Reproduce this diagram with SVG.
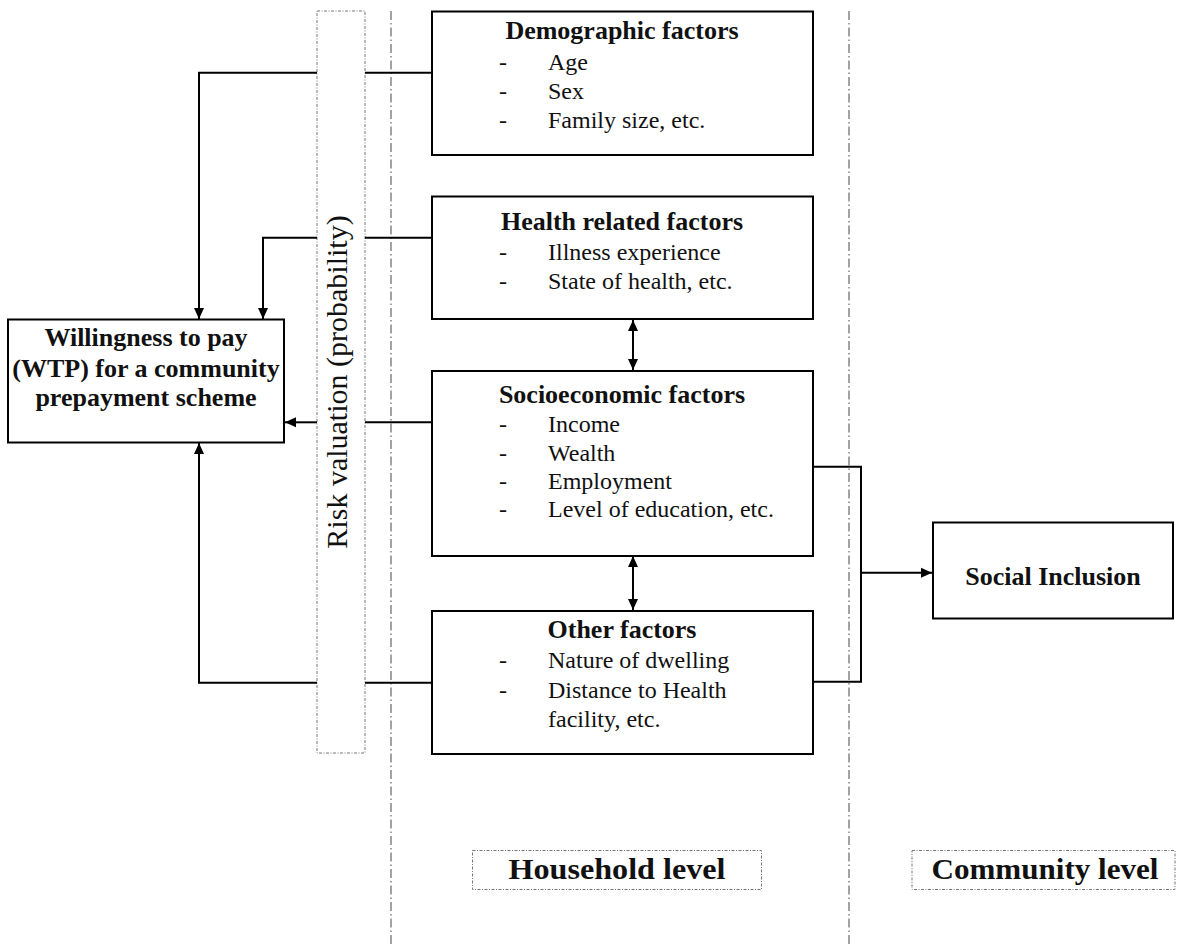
<svg xmlns="http://www.w3.org/2000/svg" width="1180" height="945" viewBox="0 0 1180 945">
<style>
.box{fill:#fff;stroke:#000;stroke-width:2}
.t{font-family:"Liberation Serif","Times New Roman",serif;font-size:24px;fill:#111}
.b{font-family:"Liberation Serif","Times New Roman",serif;font-size:26px;font-weight:bold;fill:#111;text-anchor:middle}
.c{fill:none;stroke:#000;stroke-width:2}
.dd{fill:none;stroke:#666;stroke-width:1.2;stroke-dasharray:9 3 1.5 3}
.dot{fill:none;stroke:#777;stroke-width:1;stroke-dasharray:3 1.5 1 1.5}
.m{text-anchor:middle}
</style>
<defs>
<marker id="ah" markerWidth="11" markerHeight="11" viewBox="0 0 11 11" refX="11" refY="5.5" orient="auto" markerUnits="userSpaceOnUse">
<path d="M0,0.5 L11,5.5 L0,10.5 Z" fill="#000"/>
</marker>
<marker id="as" markerWidth="11" markerHeight="11" viewBox="0 0 11 11" refX="0" refY="5.5" orient="auto" markerUnits="userSpaceOnUse">
<path d="M11,0.5 L0,5.5 L11,10.5 Z" fill="#000"/>
</marker>
</defs>
<rect width="1180" height="945" fill="#fff"/>

<g id="dividers">
<line class="dd" x1="391" y1="11" x2="391" y2="945"/>
<line class="dd" x1="849" y1="11" x2="849" y2="945"/>
</g>

<g id="risk">
<rect class="dot" x="317" y="11" width="48" height="742"/>
<text class="t" style="font-size:30px" text-anchor="middle" transform="translate(347,382) rotate(-90)">Risk valuation (probability)</text>
</g>

<g id="connectors">
<path class="c" d="M432,72.7 H365"/>
<path class="c" d="M317,72.7 H199 V319" marker-end="url(#ah)"/>
<path class="c" d="M432,237.7 H365"/>
<path class="c" d="M317,237.7 H263 V319" marker-end="url(#ah)"/>
<path class="c" d="M432,422.3 H365"/>
<path class="c" d="M317,422.3 H285" marker-end="url(#ah)"/>
<path class="c" d="M432,682.7 H365"/>
<path class="c" d="M317,682.7 H199 V443" marker-end="url(#ah)"/>
<path class="c" d="M633,320 V370" marker-start="url(#as)" marker-end="url(#ah)"/>
<path class="c" d="M633,556 V610" marker-start="url(#as)" marker-end="url(#ah)"/>
<path class="c" d="M813,466.7 H861 V681.7 H813"/>
<path class="c" d="M861,572.7 H932" marker-end="url(#ah)"/>
</g>

<g id="wtp">
<rect class="box" x="8" y="319.5" width="276" height="123"/>
<text class="b" x="146" y="346">Willingness to pay</text>
<text class="b" x="146" y="376.5">(WTP) for a community</text>
<text class="b" x="146" y="406">prepayment scheme</text>
</g>

<g id="demographic">
<rect class="box" x="432" y="11.5" width="381" height="143.5"/>
<text class="b" x="622" y="39">Demographic factors</text>
<text class="t m" x="503" y="70">-</text><text class="t" x="548" y="70">Age</text>
<text class="t m" x="503" y="99">-</text><text class="t" x="548" y="99">Sex</text>
<text class="t m" x="503" y="128">-</text><text class="t" x="548" y="128">Family size, etc.</text>
</g>

<g id="health">
<rect class="box" x="432" y="196.5" width="381" height="122.5"/>
<text class="b" x="622" y="230">Health related factors</text>
<text class="t m" x="503" y="260">-</text><text class="t" x="548" y="260">Illness experience</text>
<text class="t m" x="503" y="289">-</text><text class="t" x="548" y="289">State of health, etc.</text>
</g>

<g id="socioeconomic">
<rect class="box" x="432" y="371" width="381" height="185"/>
<text class="b" x="622" y="403">Socioeconomic factors</text>
<text class="t m" x="503" y="432">-</text><text class="t" x="548" y="432">Income</text>
<text class="t m" x="503" y="461">-</text><text class="t" x="548" y="461">Wealth</text>
<text class="t m" x="503" y="489">-</text><text class="t" x="548" y="489">Employment</text>
<text class="t m" x="503" y="517">-</text><text class="t" x="548" y="517">Level of education, etc.</text>
</g>

<g id="other">
<rect class="box" x="432" y="611" width="381" height="143"/>
<text class="b" x="622" y="638">Other factors</text>
<text class="t m" x="503" y="668">-</text><text class="t" x="548" y="668">Nature of dwelling</text>
<text class="t m" x="503" y="698">-</text><text class="t" x="548" y="698">Distance to Health</text>
<text class="t" x="548" y="727">facility, etc.</text>
</g>

<g id="social-inclusion">
<rect class="box" x="933" y="522.5" width="240" height="96"/>
<text class="b" x="1053" y="585">Social Inclusion</text>
</g>

<g id="household-level">
<rect class="dot" x="472.5" y="850.5" width="289" height="39"/>
<text class="b" style="font-size:30px" x="617" y="879" textLength="217" lengthAdjust="spacingAndGlyphs">Household level</text>
</g>

<g id="community-level">
<rect class="dot" x="912" y="850.5" width="263" height="39"/>
<text class="b" style="font-size:30px" x="1045" y="879" textLength="227" lengthAdjust="spacingAndGlyphs">Community level</text>
</g>
</svg>
